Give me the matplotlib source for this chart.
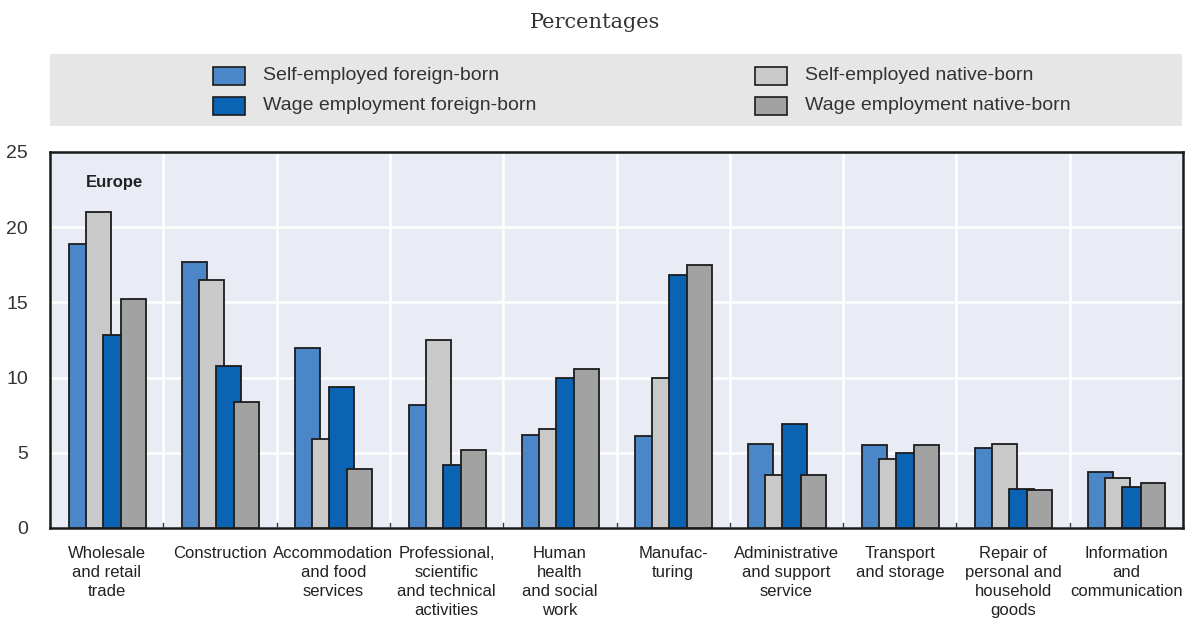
import matplotlib
matplotlib.use("Agg")
import matplotlib.pyplot as plt
from matplotlib.patches import Rectangle
import numpy as np

categories = [
    "Wholesale\nand retail\ntrade",
    "Construction",
    "Accommodation\nand food\nservices",
    "Professional,\nscientific\nand technical\nactivities",
    "Human\nhealth\nand social\nwork",
    "Manufac-\nturing",
    "Administrative\nand support\nservice",
    "Transport\nand storage",
    "Repair of\npersonal and\nhousehold\ngoods",
    "Information\nand\ncommunication",
]
se_foreign = [18.9, 17.7, 12.0, 8.2, 6.2, 6.1, 5.6, 5.5, 5.3, 3.7]
se_native = [21.0, 16.5, 5.9, 12.5, 6.6, 10.0, 3.5, 4.6, 5.6, 3.3]
wage_foreign = [12.8, 10.8, 9.4, 4.2, 10.0, 16.8, 6.9, 5.0, 2.6, 2.7]
wage_native = [15.2, 8.4, 3.9, 5.2, 10.6, 17.5, 3.5, 5.5, 2.5, 3.0]
series_names = ["Self-employed foreign-born", "Self-employed native-born",
                "Wage employment foreign-born", "Wage employment native-born"]
yticks = [0, 5, 10, 15, 20, 25]

colors = ["#4a86c8", "#c9c9c9", "#0a63b3", "#a2a2a2"]
edge = "#1c1c1c"
narrow = ["Liberation Sans Narrow", "Liberation Sans", "DejaVu Sans"]

fig = plt.figure(figsize=(11.9, 6.21), dpi=100)
ax = fig.add_axes([50 / 1190, 1 - 528 / 621, 1133 / 1190, (528 - 152) / 621])
ax.set_facecolor("#e9ebf5")

x = np.arange(len(categories))
offsets = [-0.225, -0.075, 0.075, 0.235]
width = 0.22
for vals, off, c in zip([se_foreign, se_native, wage_foreign, wage_native], offsets, colors):
    ax.bar(x + off, vals, width=width, color=c, edgecolor=edge, linewidth=1.3, zorder=3)

ax.set_xlim(-0.5, len(categories) - 0.5)
ax.set_ylim(0, 25)
ax.set_yticks(yticks)
ax.set_yticklabels([str(v) for v in yticks], fontsize=14, color="#333333", family=narrow)
for yv in yticks[1:-1]:
    ax.axhline(yv, color="white", lw=1.8, zorder=1)
for xv in np.arange(0.5, len(categories) - 0.5, 1):
    ax.axvline(xv, color="white", lw=1.8, zorder=1)
    ax.plot([xv, xv], [0, 0.35], color="#333333", lw=1, zorder=4)

ax.set_xticks(x)
ax.set_xticklabels(categories, fontsize=12, family=narrow, color="#222222", linespacing=1.32)
ax.tick_params(axis="x", length=0, pad=13)
ax.tick_params(axis="y", length=0, pad=16)
for s in ax.spines.values():
    s.set_color("#1a1a1a")
    s.set_linewidth(1.8)

ax.text(0.032, 0.92, "Europe", transform=ax.transAxes, fontsize=12, fontweight="bold",
        family=narrow, color="#222222", va="center")

# legend box
fig.patches.append(Rectangle((50 / 1190, 1 - 126 / 621), 1132 / 1190, 72 / 621,
                             transform=fig.transFigure, facecolor="#e6e6e6", edgecolor="none", zorder=0))
fig.text(595 / 1190, 1 - 22 / 621, "Percentages", ha="center", va="center",
         fontsize=15, family="DejaVu Serif", color="#333333")
leg_pos = [(213, 76), (755, 76), (213, 106), (755, 106)]
for (lx, ly), name, c in zip(leg_pos, series_names, colors):
    fig.patches.append(Rectangle((lx / 1190, 1 - (ly + 9) / 621), 32 / 1190, 18 / 621,
                                 transform=fig.transFigure, facecolor=c, edgecolor=edge, lw=1.2))
    fig.text((lx + 50) / 1190, 1 - ly / 621, name, ha="left", va="center", fontsize=14,
             family=narrow, color="#333333")

fig.savefig("out.png", dpi=100)
